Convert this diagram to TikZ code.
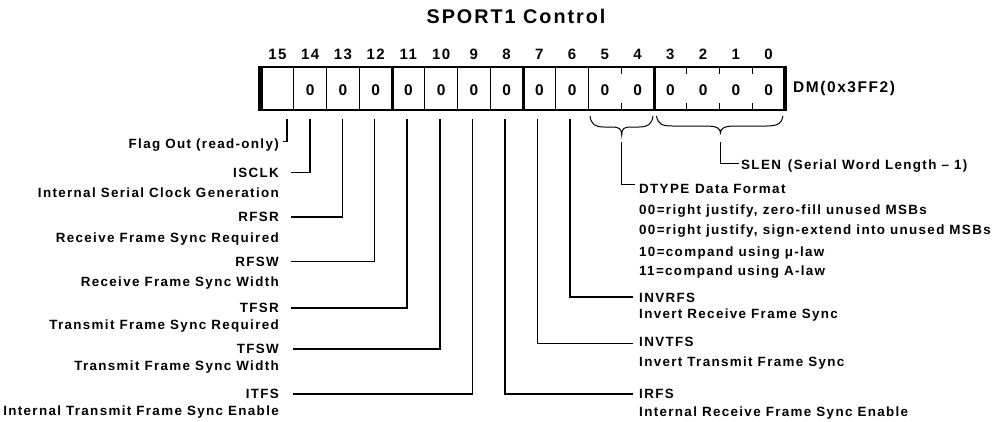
\documentclass[tikz,border=0pt]{standalone}
\usepackage{fontspec}
\setmainfont{Liberation Sans}[LetterSpace=10]
\begin{document}
\begin{tikzpicture}[x=1pt,y=-1pt,
  lbl/.style={font=\bfseries\fontsize{13.4}{15}\selectfont, inner sep=0pt},
  bitnum/.style={font=\bfseries\fontsize{15}{16}\selectfont, inner sep=0pt},
  zero/.style={font=\bfseries\fontsize{15.5}{16}\selectfont, inner sep=0pt},
  conn/.style={line width=1.1pt},
  connthick/.style={line width=1.8pt},
  cellline/.style={line width=1.2pt},
  thickdiv/.style={line width=3pt},
  brace/.style={line width=1pt}]
\useasboundingbox (0,0) rectangle (997,421);
% title
\node[font=\bfseries\fontsize{19.8}{22}\selectfont, inner sep=0pt] (title) at (516,16) {SPORT1 Control};
% register box
\def\L{261}\def\W{32.75}
\draw[line width=2.4pt] (258,67) -- (787,67);
\draw[line width=2.4pt] (258,110) -- (787,110);
\draw[line width=4.5pt] (260.5,65.8) -- (260.5,111.2);
\draw[line width=4pt] (785,65.8) -- (785,111.2);
% full thin dividers
\foreach \i in {1,2,3,5,6,7,9,10}{
  \draw[cellline] ({\L+\i*\W},67) -- ({\L+\i*\W},110);
}
% thick dividers
\foreach \i in {4,8,12}{
  \draw[thickdiv] ({\L+\i*\W},66) -- ({\L+\i*\W},111);
}
% short ticks
\foreach \i in {11,13,14,15}{
  \draw[cellline] ({\L+\i*\W},67) -- ({\L+\i*\W},74);
  \draw[cellline] ({\L+\i*\W},103) -- ({\L+\i*\W},110);
}
% bit numbers and values
\foreach \b in {15,...,0}{
  \node[bitnum] (n\b) at ({\L+(15-\b)*\W+\W/2},54) {\b};
}
\foreach \b in {14,...,0}{
  \node[zero] (z\b) at ({\L+(15-\b)*\W+\W/2},90) {0};
}
\node[font=\bfseries\fontsize{15.5}{17}\selectfont, inner sep=0pt, anchor=west] (dm) at (793,88) {DM(0x3FF2)};
% braces
\draw[brace] (590,116) .. controls (591,124) and (595,127) .. (604,127) -- (613,127)
  .. controls (619,127) and (621.7,129) .. (621.7,135)
  .. controls (621.7,129) and (624,127) .. (630,127) -- (639,127)
  .. controls (648,127) and (652,124) .. (653,116);
\draw[brace] (656.5,116) .. controls (658,124) and (662,126) .. (672,126) -- (706,126)
  .. controls (716,126) and (720.5,128) .. (720.5,133)
  .. controls (720.5,128) and (725,126) .. (735,126) -- (767,126)
  .. controls (778,126) and (782,123) .. (783,116);
% bit anchor coordinates
\coordinate (b15) at (287,119);
\coordinate (b14) at (310,119);
\coordinate (b13) at (342.3,119);
\coordinate (b12) at (374.5,119);
\coordinate (b11) at (407.3,119);
\coordinate (b10) at (440,119);
\coordinate (b9) at (472.7,119);
\coordinate (b8) at (505,119);
\coordinate (b7) at (537.3,119);
\coordinate (b6) at (570,119);
\coordinate (dtTip) at (621.7,142);
\coordinate (slTip) at (720.7,142);
% left labels
\node[lbl, anchor=base east] (flag) at (279,148) {Flag Out (read-only)};
\node[lbl, anchor=base east] (isclk) at (279,177.5) {ISCLK};
\node[lbl, anchor=base east] (isclkd) at (279,197.1) {Internal Serial Clock Generation};
\node[lbl, anchor=base east] (rfsr) at (279,221.8) {RFSR};
\node[lbl, anchor=base east] (rfsrd) at (279,242.5) {Receive Frame Sync Required};
\node[lbl, anchor=base east] (rfsw) at (279,266.5) {RFSW};
\node[lbl, anchor=base east] (rfswd) at (279,286.5) {Receive Frame Sync Width};
\node[lbl, anchor=base east] (tfsr) at (279,312.5) {TFSR};
\node[lbl, anchor=base east] (tfsrd) at (279,329.8) {Transmit Frame Sync Required};
\node[lbl, anchor=base east] (tfsw) at (279,353.8) {TFSW};
\node[lbl, anchor=base east] (tfswd) at (279,370.5) {Transmit Frame Sync Width};
\node[lbl, anchor=base east] (itfs) at (279,398.8) {ITFS};
\node[lbl, anchor=base east] (itfsd) at (279,415.8) {Internal Transmit Frame Sync Enable};
% left line ends
\coordinate (eflag) at (283,141.7);
\coordinate (eisclk) at (291,172.7);
\coordinate (erfsr) at (291,217);
\coordinate (erfsw) at (291,261.7);
\coordinate (etfsr) at (291,307.7);
\coordinate (etfsw) at (293,349);
\coordinate (eitfs) at (293,394);
\draw[conn] (b15) |- (eflag);
\draw[conn] (b14) |- (eisclk);
\draw[conn] (b13) |- (erfsr);
\draw[conn] (b12) |- (erfsw);
\draw[connthick] (b11) |- (etfsr);
\draw[connthick] (b10) |- (etfsw);
\draw[conn] (b9) |- (eitfs);
% right labels
\node[lbl, anchor=base west] (slen) at (741,169.1) {SLEN\hspace{7pt}(Serial Word Length – 1)};
\node[lbl, anchor=base west] (dtype) at (639,193.8) {DTYPE\hspace{6pt}Data Format};
\node[lbl, anchor=base west] (opt1) at (639,214.8) {00=right justify, zero-fill unused MSBs};
\node[lbl, anchor=base west] (opt2) at (639,234.8) {00=right justify, sign-extend into unused MSBs};
\node[lbl, anchor=base west] (opt3) at (639,256.5) {10=compand using μ-law};
\node[lbl, anchor=base west] (opt4) at (639,275.8) {11=compand using A-law};
\node[lbl, anchor=base west] (invrfs) at (639,302.3) {INVRFS};
\node[lbl, anchor=base west] (invrfsd) at (639,318.8) {Invert Receive Frame Sync};
\node[lbl, anchor=base west] (invtfs) at (639,346.8) {INVTFS};
\node[lbl, anchor=base west] (invtfsd) at (639,366.8) {Invert Transmit Frame Sync};
\node[lbl, anchor=base west] (irfs) at (639,398.3) {IRFS};
\node[lbl, anchor=base west] (irfsd) at (639,416.3) {Internal Receive Frame Sync Enable};
% right line ends
\coordinate (eslen) at (739,163.3);
\coordinate (edtype) at (635,184.7);
\coordinate (einvrfs) at (633,296.7);
\coordinate (einvtfs) at (633,343.3);
\coordinate (eirfs) at (633,394);
\draw[conn] (slTip) |- (eslen);
\draw[conn] (dtTip) |- (edtype);
\draw[connthick] (b6) |- (einvrfs);
\draw[conn] (b7) |- (einvtfs);
\draw[connthick] (b8) |- (eirfs);
\end{tikzpicture}
\end{document}
